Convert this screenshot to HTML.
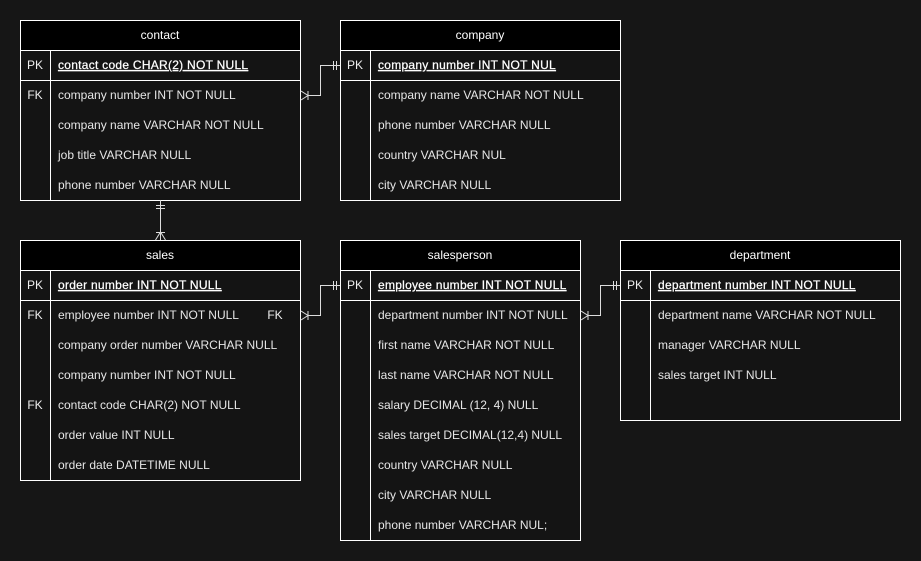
<!DOCTYPE html>
<html><head><meta charset="utf-8"><style>
html,body{margin:0;padding:0;background:#161616;}
svg{display:block;}
text{font-family:"Liberation Sans",Arial,sans-serif;font-size:12px;fill:#e6e6e6;}
.h{fill:#fff;text-anchor:middle;}
.k{fill:#f0f0f0;text-anchor:middle;}
.u{text-decoration:underline;fill:#fff;letter-spacing:0.27px;stroke:#fff;stroke-width:0.25px;}
</style></head><body>
<svg width="921" height="561" viewBox="0 0 921 561">
<rect width="921" height="561" fill="#161616"/>
<g stroke="#fff" stroke-width="1" fill="none">
<rect x="20.5" y="20.5" width="280" height="180" fill="#141414"/>
<rect x="20.5" y="20.5" width="280" height="30" fill="#000"/>
<line x1="20" y1="80.5" x2="300" y2="80.5"/><line x1="50.5" y1="50" x2="50.5" y2="200"/>
<rect x="340.5" y="20.5" width="280" height="180" fill="#141414"/>
<rect x="340.5" y="20.5" width="280" height="30" fill="#000"/>
<line x1="340" y1="80.5" x2="620" y2="80.5"/><line x1="370.5" y1="50" x2="370.5" y2="200"/>
<rect x="20.5" y="240.5" width="280" height="240" fill="#141414"/>
<rect x="20.5" y="240.5" width="280" height="30" fill="#000"/>
<line x1="20" y1="300.5" x2="300" y2="300.5"/><line x1="50.5" y1="270" x2="50.5" y2="480"/>
<rect x="340.5" y="240.5" width="240" height="300" fill="#141414"/>
<rect x="340.5" y="240.5" width="240" height="30" fill="#000"/>
<line x1="340" y1="300.5" x2="580" y2="300.5"/><line x1="370.5" y1="270" x2="370.5" y2="540"/>
<rect x="620.5" y="240.5" width="280" height="180" fill="#141414"/>
<rect x="620.5" y="240.5" width="280" height="30" fill="#000"/>
<line x1="620" y1="300.5" x2="900" y2="300.5"/><line x1="650.5" y1="270" x2="650.5" y2="420"/>
</g>
<g stroke="#ddd" stroke-width="1" fill="none">
<path d="M308 95.5H320.5V65.5H340"/>
<path d="M301 91L308 95.5L301 100M308 91V100"/>
<path d="M333.5 61V70M336.5 61V70"/>
<path d="M308 315.5H320.5V285.5H340"/>
<path d="M301 311L308 315.5L301 320M308 311V320"/>
<path d="M333.5 281V290M336.5 281V290"/>
<path d="M588 315.5H600.5V285.5H620"/>
<path d="M581 311L588 315.5L581 320M588 311V320"/>
<path d="M613.5 281V290M616.5 281V290"/>
<path d="M160.5 200V240"/>
<path d="M156 205.5H165M156 208.5H165"/>
<path d="M156 232.5H165M155.5 240L160.5 232L165.5 240"/>
</g>
<text class="h" x="160" y="39">contact</text>
<text class="k" x="35" y="69">PK</text><text class="u" x="58" y="69">contact code CHAR(2) NOT NULL</text>
<text class="k" x="35" y="99">FK</text><text x="58" y="99">company number INT NOT NULL</text>
<text x="58" y="129">company name VARCHAR NOT NULL</text>
<text x="58" y="159">job title VARCHAR NULL</text>
<text x="58" y="189">phone number VARCHAR NULL</text>
<text class="h" x="480" y="39">company</text>
<text class="k" x="355" y="69">PK</text><text class="u" x="378" y="69">company number INT NOT NUL</text>
<text x="378" y="99">company name VARCHAR NOT NULL</text>
<text x="378" y="129">phone number VARCHAR NULL</text>
<text x="378" y="159">country VARCHAR NUL</text>
<text x="378" y="189">city VARCHAR NULL</text>
<text class="h" x="160" y="259">sales</text>
<text class="k" x="35" y="289">PK</text><text class="u" x="58" y="289">order number INT NOT NULL</text>
<text class="k" x="35" y="319">FK</text><text x="58" y="319">employee number INT NOT NULL</text><text class="k" x="275" y="319">FK</text>
<text x="58" y="349">company order number VARCHAR NULL</text>
<text x="58" y="379">company number INT NOT NULL</text>
<text class="k" x="35" y="409">FK</text><text x="58" y="409">contact code CHAR(2) NOT NULL</text>
<text x="58" y="439">order value INT NULL</text>
<text x="58" y="469">order date DATETIME NULL</text>
<text class="h" x="460" y="259">salesperson</text>
<text class="k" x="355" y="289">PK</text><text class="u" x="378" y="289">employee number INT NOT NULL</text>
<text x="378" y="319">department number INT NOT NULL</text>
<text x="378" y="349">first name VARCHAR NOT NULL</text>
<text x="378" y="379">last name VARCHAR NOT NULL</text>
<text x="378" y="409">salary DECIMAL (12, 4) NULL</text>
<text x="378" y="439">sales target DECIMAL(12,4) NULL</text>
<text x="378" y="469">country VARCHAR NULL</text>
<text x="378" y="499">city VARCHAR NULL</text>
<text x="378" y="529">phone number VARCHAR NUL;</text>
<text class="h" x="760" y="259">department</text>
<text class="k" x="635" y="289">PK</text><text class="u" x="658" y="289">department number INT NOT NULL</text>
<text x="658" y="319">department name VARCHAR NOT NULL</text>
<text x="658" y="349">manager VARCHAR NULL</text>
<text x="658" y="379">sales target INT NULL</text>
</svg>
</body></html>
